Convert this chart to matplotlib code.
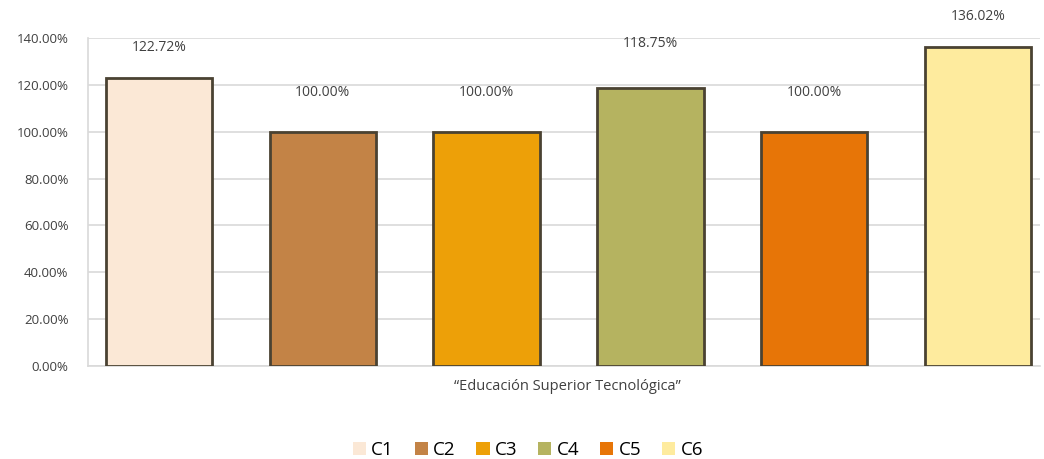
import numpy as np
import matplotlib.pyplot as plt
from matplotlib.patches import Patch
from matplotlib.ticker import FuncFormatter

series = ['C1', 'C2', 'C3', 'C4', 'C5', 'C6']
values = [122.72, 100.00, 100.00, 118.75, 100.00, 136.02]
colors = ['#FBE8D6', '#C38346', '#EDA008', '#B5B360', '#E77507', '#FEEB9E']
category = '\u201cEducación Superior Tecnológica\u201d'

# label offsets above each bar (points), as placed in the original
label_offsets = [22, 28, 28, 32, 28, 22]

plt.rcParams['font.family'] = ['Open Sans', 'DejaVu Sans']

fig = plt.figure(figsize=(10.44, 4.59), dpi=100)
ax = fig.add_axes([88 / 1044, 1 - 366 / 459, (1040 - 88) / 1044, 328 / 459])

x = np.arange(len(series))
for i in range(len(series)):
    ax.bar(x[i], values[i], width=0.65, color=colors[i], edgecolor='#4a4232',
           linewidth=2.0, zorder=3)
    ax.annotate('%.2f%%' % values[i], (x[i], values[i]), xytext=(0, label_offsets[i]),
                textcoords='offset points', ha='center', va='center',
                fontsize=10, color='#404040', annotation_clip=False)

ax.set_xlim(-0.433, 5.378)
ax.set_ylim(0, 140)
ax.set_yticks(np.arange(0, 141, 20))
ax.yaxis.set_major_formatter(FuncFormatter(lambda v, p: '%.2f%%' % v))
ax.grid(axis='y', color='#d9d9d9', linewidth=1.2, zorder=0)
ax.set_xticks([])
ax.tick_params(axis='y', length=0, labelsize=9.5, labelcolor='#404040', pad=14)
for s in ['top', 'right']:
    ax.spines[s].set_visible(False)
for s in ['left', 'bottom']:
    ax.spines[s].set_color('#d9d9d9')
    ax.spines[s].set_linewidth(1.2)

fig.text(567 / 1044, 1 - 387 / 459, category, ha='center', va='center',
         fontsize=10.5, color='#404040')

handles = [Patch(facecolor=c, edgecolor='none') for c in colors]
fig.legend(handles=handles, labels=series, loc='center', bbox_to_anchor=(528 / 1044, 1 - 450 / 459),
           ncol=6, frameon=False, fontsize=13.5, handlelength=0.7, handleheight=0.7,
           handletextpad=0.3, columnspacing=1.1)

fig.savefig('out.png', dpi=100)
